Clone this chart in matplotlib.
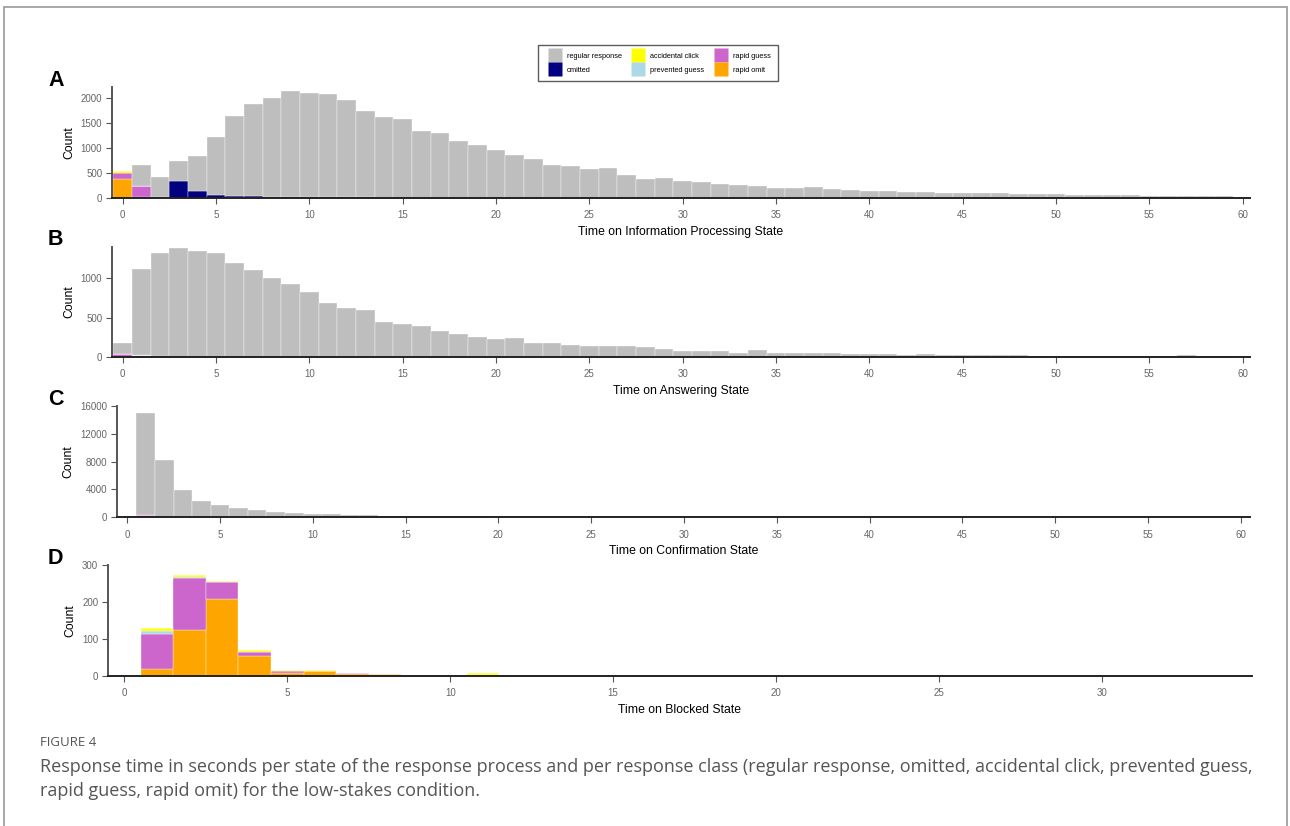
import matplotlib
matplotlib.use("Agg")
import matplotlib.pyplot as plt
from matplotlib.lines import Line2D
from matplotlib.patches import Rectangle

plt.rcParams["font.family"] = ["Liberation Sans", "DejaVu Sans"]

# response classes, in legend order (first one ends up on top of the stack)
classes = ["regular response", "omitted", "accidental click",
           "prevented guess", "rapid guess", "rapid omit"]
colors = ["#bebebe", "#000080", "#ffff00", "#add8e6", "#cc66cc", "#ffa500"]

# --- A: time on information processing state (bins 0..60) ---
a_regular = [0, 427, 397, 395, 709, 1172, 1589, 1834, 1967, 2106,
             2084, 2069, 1950, 1718, 1601, 1571, 1341, 1288, 1137, 1058,
             949, 846, 774, 656, 636, 576, 589, 464, 377, 391,
             338, 313, 288, 269, 232, 207, 207, 213, 175, 163,
             138, 144, 119, 125, 106, 100, 94, 94, 81, 75,
             88, 69, 63, 56, 50, 44, 44, 44, 44, 31,
             0]
a_omitted = [0, 0, 0, 340, 139, 53, 40, 33, 26, 20, 15, 10, 10, 10, 8, 5,
             3, 3, 2, 2, 5, 3, 2]
a_accidental = [53]
a_prevented = [0]
a_rapid_guess = [106, 210, 5]
a_rapid_omit = [384, 25, 20]

# --- B: time on answering state ---
b_regular = [134, 1093, 1301, 1373, 1336, 1315, 1197, 1109, 1004, 924,
             824, 685, 622, 592, 445, 420, 399, 332, 298, 256,
             227, 239, 172, 181, 155, 139, 134, 134, 122, 97,
             80, 80, 76, 55, 92, 46, 55, 46, 55, 38,
             38, 38, 29, 42, 29, 29, 25, 21, 21, 17,
             17, 17, 13, 13, 17, 13, 8, 29, 13, 13,
             0]
b_omitted = [0, 0, 10, 5, 2]
b_accidental = [0]
b_prevented = [0, 8]
b_rapid_guess = [42, 17, 2]
b_rapid_omit = [0]

# --- C: time on confirmation state ---
c_regular = [0, 14750, 8200, 3840, 2356, 1779, 1250, 962, 721, 577,
             480, 385, 336, 240, 192, 144, 144, 120, 100, 85,
             70, 60, 50, 45, 40, 35, 30, 28, 25, 22,
             20, 18, 16, 15, 14, 13, 12, 11, 10, 10,
             9, 9, 8, 8, 7, 7, 6, 6, 6, 5,
             5, 5, 5, 4, 4, 4, 4, 3, 3, 3,
             3]
c_omitted = [0]
c_accidental = [0, 0, 20, 6]
c_prevented = [0]
c_rapid_guess = [0, 300, 30]
c_rapid_omit = [0]

# --- D: time on blocked state (bins 0..34) ---
d_regular = [0]
d_omitted = [0]
d_accidental = [0, 7, 5, 3, 4, 2, 3, 1, 0, 0, 0, 5]
d_prevented = [0, 8, 3]
d_rapid_guess = [0, 95, 140, 46, 12, 6, 0, 2, 0, 0, 0, 0, 0, 0, 0, 0, 0, 0, 0, 1]
d_rapid_omit = [0, 19, 125, 208, 53, 7, 13, 5, 5, 2, 2, 2, 2, 2, 2, 0, 2]

panels = [
    ("A", "Time on Information Processing State", 61,
     [a_regular, a_omitted, a_accidental, a_prevented, a_rapid_guess, a_rapid_omit],
     (112, 87, 1250, 198), (-0.57, 60.4), (0, 2215), [0, 500, 1000, 1500, 2000],
     list(range(0, 61, 5))),
    ("B", "Time on Answering State", 61,
     [b_regular, b_omitted, b_accidental, b_prevented, b_rapid_guess, b_rapid_omit],
     (112, 247, 1250, 357), (-0.57, 60.4), (0, 1395), [0, 500, 1000],
     list(range(0, 61, 5))),
    ("C", "Time on Confirmation State", 61,
     [c_regular, c_omitted, c_accidental, c_prevented, c_rapid_guess, c_rapid_omit],
     (117, 406, 1250, 517), (-0.55, 60.5), (0, 16000), [0, 4000, 8000, 12000, 16000],
     list(range(0, 61, 5))),
    ("D", "Time on Blocked State", 35,
     [d_regular, d_omitted, d_accidental, d_prevented, d_rapid_guess, d_rapid_omit],
     (108, 565, 1252, 676), (-0.5, 34.6), (0, 300), [0, 100, 200, 300],
     list(range(0, 31, 5))),
]

W, H = 1290, 826
fig = plt.figure(figsize=(W / 100, H / 100), dpi=100)
fig.patch.set_facecolor("white")

# thin frame around the whole figure
fig.add_artist(Rectangle((4 / W, -0.01), (1287 - 4) / W, 1.01 - 7 / H,
                         transform=fig.transFigure, fill=False,
                         edgecolor="#a0a0a0", linewidth=1.3))


def pad(vals, n):
    return list(vals) + [0] * (n - len(vals))


for letter, xlabel, nbins, series, box, xlim, ylim, yticks, xticks in panels:
    left, top, right, bottom = box
    ax = fig.add_axes([left / W, 1 - bottom / H, (right - left) / W, (bottom - top) / H])
    x = list(range(nbins))
    base = [0] * nbins
    # stack from the last class upwards
    for vals, col in reversed(list(zip(series, colors))):
        v = pad(vals, nbins)
        ax.bar(x, v, width=1.0, bottom=base, color=col,
               edgecolor="white", linewidth=0.25)
        base = [b + h for b, h in zip(base, v)]

    ax.set_xlim(*xlim)
    ax.set_ylim(*ylim)
    ax.set_yticks(yticks)
    ax.set_xticks(xticks)
    for s in ["top", "right"]:
        ax.spines[s].set_visible(False)
    ax.spines["left"].set_color("#555555")
    ax.spines["left"].set_linewidth(1.4)
    ax.spines["bottom"].set_color("#222222")
    ax.spines["bottom"].set_linewidth(1.4)
    ax.tick_params(axis="both", colors="#555555", labelcolor="#666666",
                   labelsize=7, length=4, width=0.8)
    ax.tick_params(axis="x", pad=5)
    ax.tick_params(axis="y", pad=3)
    ax.set_xlabel(xlabel, fontsize=8.8, labelpad=4)
    ax.set_ylabel("Count", fontsize=8.8, labelpad=4)
    fig.text(48 / W, 1 - (top - 7) / H, letter, fontsize=15.5, fontweight="bold",
             va="center", ha="left")

handles = [Line2D([], [], marker="s", linestyle="none", markersize=9.4,
                  markerfacecolor=c, markeredgecolor="none") for c in colors]
fig.legend(handles, classes, ncol=3, loc="center",
           bbox_to_anchor=(658 / W, 1 - 63 / H), fontsize=5.3,
           frameon=True, fancybox=False, edgecolor="#333333",
           handlelength=2.6, handleheight=1.0, labelspacing=0.85,
           columnspacing=0.9, handletextpad=0.35, borderpad=1.0)

fig.text(40 / W, 1 - 742 / H, "FIGURE 4", fontsize=9.5, color="#555555",
         va="center", ha="left", family="Open Sans")
fig.text(40 / W, 1 - 767 / H,
         "Response time in seconds per state of the response process and per response class "
         "(regular response, omitted, accidental click, prevented guess,",
         fontsize=12.95, color="#555555", va="center", ha="left", family="Open Sans")
fig.text(40 / W, 1 - 791 / H,
         "rapid guess, rapid omit) for the low-stakes condition.",
         fontsize=12.95, color="#555555", va="center", ha="left", family="Open Sans")

fig.savefig("out.png", dpi=100)
